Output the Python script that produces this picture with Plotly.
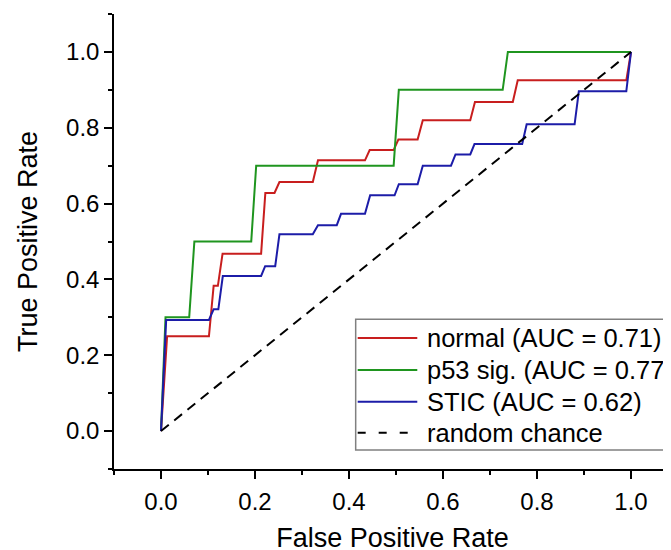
import plotly.graph_objects as go

# ROC curve data
normal_fpr = [0, 0.013, 0.102, 0.112, 0.121, 0.131, 0.213, 0.222, 0.2415, 0.252, 0.323, 0.334,
              0.434, 0.444, 0.495, 0.505, 0.546, 0.557, 0.658, 0.668, 0.7485, 0.759, 0.99, 1.0]
normal_tpr = [0, 0.25, 0.25, 0.383, 0.383, 0.468, 0.468, 0.628, 0.628, 0.657, 0.657, 0.714,
              0.714, 0.741, 0.741, 0.769, 0.769, 0.82, 0.82, 0.868, 0.868, 0.925, 0.925, 1.0]

p53_fpr = [0, 0.0096, 0.06, 0.071, 0.192, 0.2025, 0.495, 0.506, 0.727, 0.738, 1.0]
p53_tpr = [0, 0.3, 0.3, 0.5, 0.5, 0.7, 0.7, 0.9, 0.9, 1.0, 1.0]

stic_fpr = [0, 0.011, 0.102, 0.112, 0.122, 0.1315, 0.213, 0.2216, 0.243, 0.252, 0.323, 0.334,
            0.374, 0.383, 0.434, 0.445, 0.497, 0.506, 0.546, 0.557, 0.617, 0.6266, 0.658, 0.667,
            0.7685, 0.778, 0.88, 0.889, 0.99, 1.0]
stic_tpr = [0, 0.293, 0.293, 0.321, 0.321, 0.409, 0.409, 0.435, 0.435, 0.519, 0.519, 0.543,
            0.543, 0.573, 0.573, 0.622, 0.622, 0.651, 0.651, 0.70, 0.70, 0.7295, 0.7295, 0.757,
            0.757, 0.809, 0.809, 0.896, 0.896, 1.0]

chance_x = [0, 1]
chance_y = [0, 1]

series_names = ["normal (AUC = 0.71)", "p53 sig. (AUC = 0.77)", "STIC (AUC = 0.62)", "random chance"]
series_colors = ["#c81e1e", "#1f951f", "#1c1ca8", "#000000"]

tick_vals = [0.0, 0.2, 0.4, 0.6, 0.8, 1.0]
tick_text = ["0.0", "0.2", "0.4", "0.6", "0.8", "1.0"]

FONT = "Liberation Sans, Arial, sans-serif"
CHANCE_DASH = "10px,7px"

fig = go.Figure()
for xs, ys, name, col in [(normal_fpr, normal_tpr, series_names[0], series_colors[0]),
                          (p53_fpr, p53_tpr, series_names[1], series_colors[1]),
                          (stic_fpr, stic_tpr, series_names[2], series_colors[2])]:
    fig.add_trace(go.Scatter(x=xs, y=ys, mode="lines", name=name,
                             line=dict(color=col, width=2), showlegend=False))
fig.add_trace(go.Scatter(x=chance_x, y=chance_y, mode="lines", name=series_names[3],
                         line=dict(color=series_colors[3], width=2, dash=CHANCE_DASH),
                         showlegend=False))

axis_common = dict(
    showline=True, linecolor="black", linewidth=1.5,
    ticks="outside", ticklen=8, tickwidth=1.5, tickcolor="black",
    tickvals=tick_vals, ticktext=tick_text,
    minor=dict(dtick=0.1, tick0=0, ticks="outside", ticklen=4, tickwidth=1.5, tickcolor="black"),
    showgrid=False, zeroline=False, mirror=False,
    tickfont=dict(family=FONT, size=24, color="black"),
)

# Legend drawn as a framed box in paper coordinates (box clipped at the right edge like the reference)
leg_box = dict(x0=0.4339, x1=1.08, y0=0.0417, y1=0.3289)
leg_rows = [0.2878, 0.2175, 0.1478, 0.0798]
leg_line_x = (0.4375, 0.5445)
leg_text_x = 0.5583

shapes = [dict(type="rect", xref="paper", yref="paper", layer="above",
               x0=leg_box["x0"], x1=leg_box["x1"], y0=leg_box["y0"], y1=leg_box["y1"],
               line=dict(color="#808080", width=1.5), fillcolor="white")]
annotations = []
for i, (name, col) in enumerate(zip(series_names, series_colors)):
    dash = "8px,13px" if i == 3 else "solid"
    shapes.append(dict(type="line", xref="paper", yref="paper", layer="above",
                       x0=leg_line_x[0], x1=leg_line_x[1], y0=leg_rows[i], y1=leg_rows[i],
                       line=dict(color=col, width=2, dash=dash)))
    annotations.append(dict(text=name, xref="paper", yref="paper", x=leg_text_x, y=leg_rows[i],
                            xanchor="left", yanchor="middle", showarrow=False,
                            font=dict(family=FONT, size=25.5, color="black")))

fig.update_layout(
    width=671, height=550,
    margin=dict(l=106, r=8, t=6, b=89, autoexpand=False),
    paper_bgcolor="white", plot_bgcolor="white",
    font=dict(family=FONT, color="black"),
    xaxis=dict(range=[-0.1, 1.0851], ticklabelstandoff=2,
               title=dict(text="False Positive Rate", font=dict(family=FONT, size=27), standoff=15),
               **axis_common),
    yaxis=dict(range=[-0.1, 1.1],
               title=dict(text="True Positive Rate", font=dict(family=FONT, size=27), standoff=21),
               **axis_common),
    shapes=shapes,
    annotations=annotations,
    showlegend=False,
)

fig.write_html("out.html")
